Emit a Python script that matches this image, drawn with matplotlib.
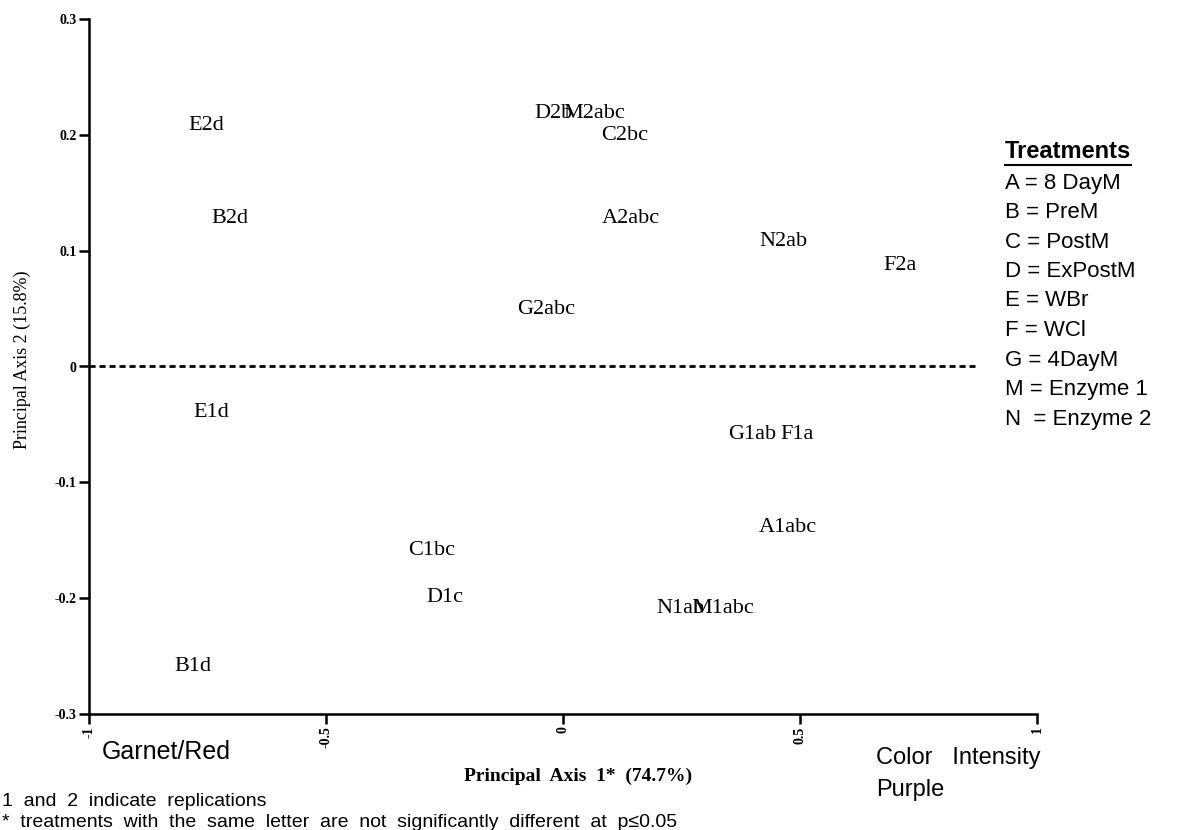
import matplotlib
matplotlib.use('Agg')
import matplotlib.pyplot as plt

# treatment labels placed at their (axis 1, axis 2) scores
labels = ['E2d', 'B2d', 'D2b', 'M2abc', 'C2bc', 'A2abc', 'N2ab', 'F2a', 'G2abc',
          'E1d', 'G1ab', 'F1a', 'A1abc', 'C1bc', 'D1c', 'N1ab', 'M1abc', 'B1d']
pc1 = [-0.753, -0.702, -0.019, 0.066, 0.131, 0.144, 0.465, 0.712, -0.036,
       -0.742, 0.400, 0.493, 0.475, -0.277, -0.249, 0.247, 0.338, -0.780]
pc2 = [0.208, 0.128, 0.218, 0.218, 0.199, 0.128, 0.108, 0.087, 0.049,
       -0.040, -0.059, -0.059, -0.139, -0.159, -0.199, -0.209, -0.209, -0.259]

xticks = [-1, -0.5, 0, 0.5, 1]
xtick_labels = ['-1', '-0.5', '0', '0.5', '1']
yticks = [-0.3, -0.2, -0.1, 0, 0.1, 0.2, 0.3]
ytick_labels = ['-0.3', '-0.2', '-0.1', '0', '0.1', '0.2', '0.3']

legend_title = 'Treatments'
legend_items = ['A = 8 DayM', 'B = PreM', 'C = PostM', 'D = ExPostM', 'E = WBr',
                'F = WCl', 'G = 4DayM', 'M = Enzyme 1', 'N  = Enzyme 2']

serif = 'Liberation Serif'
sans = ['Liberation Sans', 'DejaVu Sans']

W, H = 1178, 830
fig = plt.figure(figsize=(W / 100, H / 100), dpi=100)
ax = fig.add_axes([89 / W, 1 - 714 / H, (1037 - 89) / W, (714 - 19) / H])
ax.set_xlim(-1, 1)
ax.set_ylim(-0.3, 0.3)

for s in ['top', 'right']:
    ax.spines[s].set_visible(False)
for s in ['left', 'bottom']:
    ax.spines[s].set_linewidth(1.8)

ax.set_xticks(xticks)
ax.set_xticklabels(xtick_labels, rotation=90, family=serif, fontsize=10, fontweight='bold')
ax.set_yticks(yticks)
ax.set_yticklabels(ytick_labels, family=serif, fontsize=10, fontweight='bold')
ax.tick_params(axis='both', direction='out', length=7, width=1.8, pad=2)

# zero line
ax.plot([-1, 0.87], [0, 0], color='black', lw=2, linestyle=(0, (2.2, 1.4)))

for lab, x, y in zip(labels, pc1, pc2):
    ax.text(x, y, lab, family=serif, fontsize=16, ha='center', va='center')

# axis titles
fig.text(22 / W, 1 - 360 / H, 'Principal Axis 2 (15.8%)', family=serif, fontsize=13,
         rotation=90, ha='center', va='center')
fig.text(578 / W, 1 - 776 / H, 'Principal  Axis  1*  (74.7%)', family=serif,
         fontsize=14, fontweight='bold', ha='center', va='center')

# end-of-axis descriptors
fig.text(102 / W, 1 - 752 / H, 'Garnet/Red', family=sans, fontsize=18, va='center')
fig.text(876 / W, 1 - 758 / H, 'Color   Intensity', family=sans, fontsize=17, va='center')
fig.text(876 / W, 1 - 790 / H, 'Purple', family=sans, fontsize=17, va='center')

# legend
t = fig.text(1005 / W, 1 - 152 / H, legend_title, family=sans, fontsize=17,
             fontweight='bold', va='center')
fig.canvas.draw()
bb = t.get_window_extent()
fig.add_artist(plt.Line2D([bb.x0 / W, bb.x1 / W], [1 - 165 / H, 1 - 165 / H],
                          color='black', lw=1.5, transform=fig.transFigure))
for i, item in enumerate(legend_items):
    fig.text(1005 / W, 1 - (183 + 29.5 * i) / H, item, family=sans, fontsize=16,
             va='center')

# footnotes
fig.text(2 / W, 1 - 801 / H, '1  and  2  indicate  replications', family=sans,
         fontsize=14, va='center')
fig.text(2 / W, 1 - 822 / H,
         '*  treatments  with  the  same  letter  are  not  significantly  different  at  p\u22640.05',
         family=sans, fontsize=14, va='center')

fig.savefig('out.png', dpi=100)
